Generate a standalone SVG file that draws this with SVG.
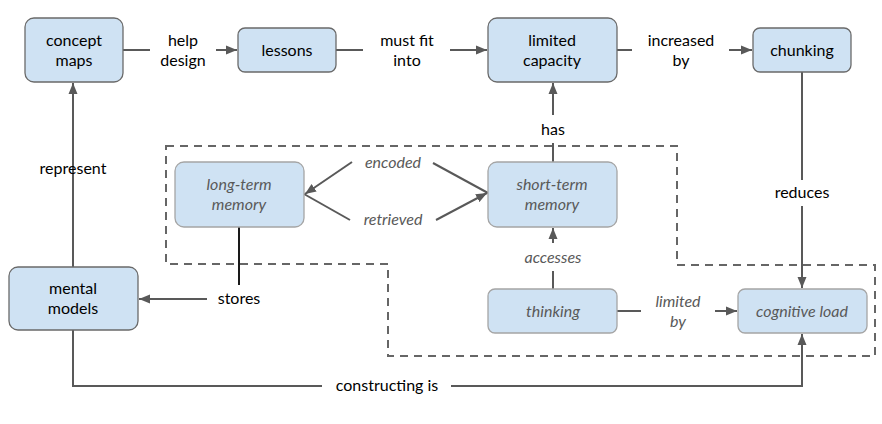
<svg xmlns="http://www.w3.org/2000/svg" width="882" height="424" viewBox="0 0 882 424">
<style>
.node rect{fill:#cfe2f3;stroke:#6a6a6a;stroke-width:1.3}
.inner rect{fill:#cfe2f3;stroke:#a5a5a5;stroke-width:1.3}
text{font-family:Lato,"Liberation Sans",sans-serif;font-size:16px;text-anchor:middle;fill:#000}
.inner text,.il{font-style:italic;fill:#595959}
.e{fill:none;stroke:#595959;stroke-width:2}
.dash{fill:none;stroke:#666;stroke-width:2;stroke-dasharray:8,6}
</style>
<defs>
<marker id="ar" markerUnits="userSpaceOnUse" markerWidth="12" markerHeight="10" refX="11" refY="5" orient="auto">
<path d="M0,0.5 L11,5 L0,9.5 z" fill="#595959"/>
</marker>
</defs>
<rect width="882" height="424" fill="#fff"/>
<path class="dash" d="M166,146 H677 V265 H875 V356 H388 V264 H166 Z"/>
<g id="connectors">
<path class="e" d="M123,50 H150"/>
<path class="e" d="M216,50 H237" marker-end="url(#ar)"/>
<text x="183" y="46">help</text><text x="183" y="66">design</text>
<path class="e" d="M336,50 H363"/>
<path class="e" d="M450,50 H487" marker-end="url(#ar)"/>
<text x="407" y="46">must fit</text><text x="407" y="66">into</text>
<path class="e" d="M617,50 H632"/>
<path class="e" d="M729,50 H752" marker-end="url(#ar)"/>
<text x="681" y="46">increased</text><text x="681" y="66">by</text>
<path class="e" d="M553,162 V143"/>
<path class="e" d="M553,115 V83" marker-end="url(#ar)"/>
<text x="553" y="135">has</text>
<path class="e" d="M802,72 V180"/>
<path class="e" d="M802,206 V288" marker-end="url(#ar)"/>
<text x="802" y="198">reduces</text>
<path class="e" d="M73,267 V155"/>
<path class="e" d="M73,180 V83" marker-end="url(#ar)"/>
<text x="73" y="174">represent</text>
<path class="e" d="M488,193 L433,163"/>
<path class="e" d="M352,162 L305,194" marker-end="url(#ar)"/>
<text class="il" x="393" y="168">encoded</text>
<path class="e" d="M304,194 L350,220"/>
<path class="e" d="M436,220 L487,193" marker-end="url(#ar)"/>
<text class="il" x="393" y="225">retrieved</text>
<path class="e" d="M553,289 V271"/>
<path class="e" d="M553,243 V228" marker-end="url(#ar)"/>
<text class="il" x="553" y="263">accesses</text>
<path class="e" d="M617,311 H641"/>
<path class="e" d="M715,311 H737" marker-end="url(#ar)"/>
<text class="il" x="678" y="307">limited</text><text class="il" x="678" y="327">by</text>
<path d="M239,227 V285" fill="none" stroke="#1a1a1a" stroke-width="2"/>
<path class="e" d="M207,299 H139" marker-end="url(#ar)"/>
<text x="239" y="304">stores</text>
<path class="e" d="M73,330 V386 H322"/>
<path class="e" d="M451,386 H802 V334" marker-end="url(#ar)"/>
<text x="387" y="391">constructing is</text>
</g>
<g id="concept-maps" class="node"><rect x="25" y="18" width="98" height="64" rx="9"/><text x="74" y="46">concept</text><text x="74" y="66">maps</text></g>
<g id="lessons" class="node"><rect x="238" y="28" width="98" height="44" rx="7"/><text x="287" y="56">lessons</text></g>
<g id="limited-capacity" class="node"><rect x="488" y="18" width="129" height="64" rx="9"/><text x="552" y="46">limited</text><text x="552" y="66">capacity</text></g>
<g id="chunking" class="node"><rect x="753" y="28" width="98" height="44" rx="7"/><text x="802" y="56">chunking</text></g>
<g id="mental-models" class="node"><rect x="9" y="267" width="129" height="63" rx="9"/><text x="73" y="294">mental</text><text x="73" y="314">models</text></g>
<g id="long-term-memory" class="inner"><rect x="175" y="162" width="129" height="65" rx="9"/><text x="239" y="190">long-term</text><text x="239" y="210">memory</text></g>
<g id="short-term-memory" class="inner"><rect x="488" y="162" width="129" height="65" rx="9"/><text x="552" y="190">short-term</text><text x="552" y="210">memory</text></g>
<g id="thinking" class="inner"><rect x="488" y="289" width="129" height="44" rx="7"/><text x="553" y="317">thinking</text></g>
<g id="cognitive-load" class="inner"><rect x="738" y="289" width="129" height="44" rx="7"/><text x="802" y="317">cognitive load</text></g>
</svg>
